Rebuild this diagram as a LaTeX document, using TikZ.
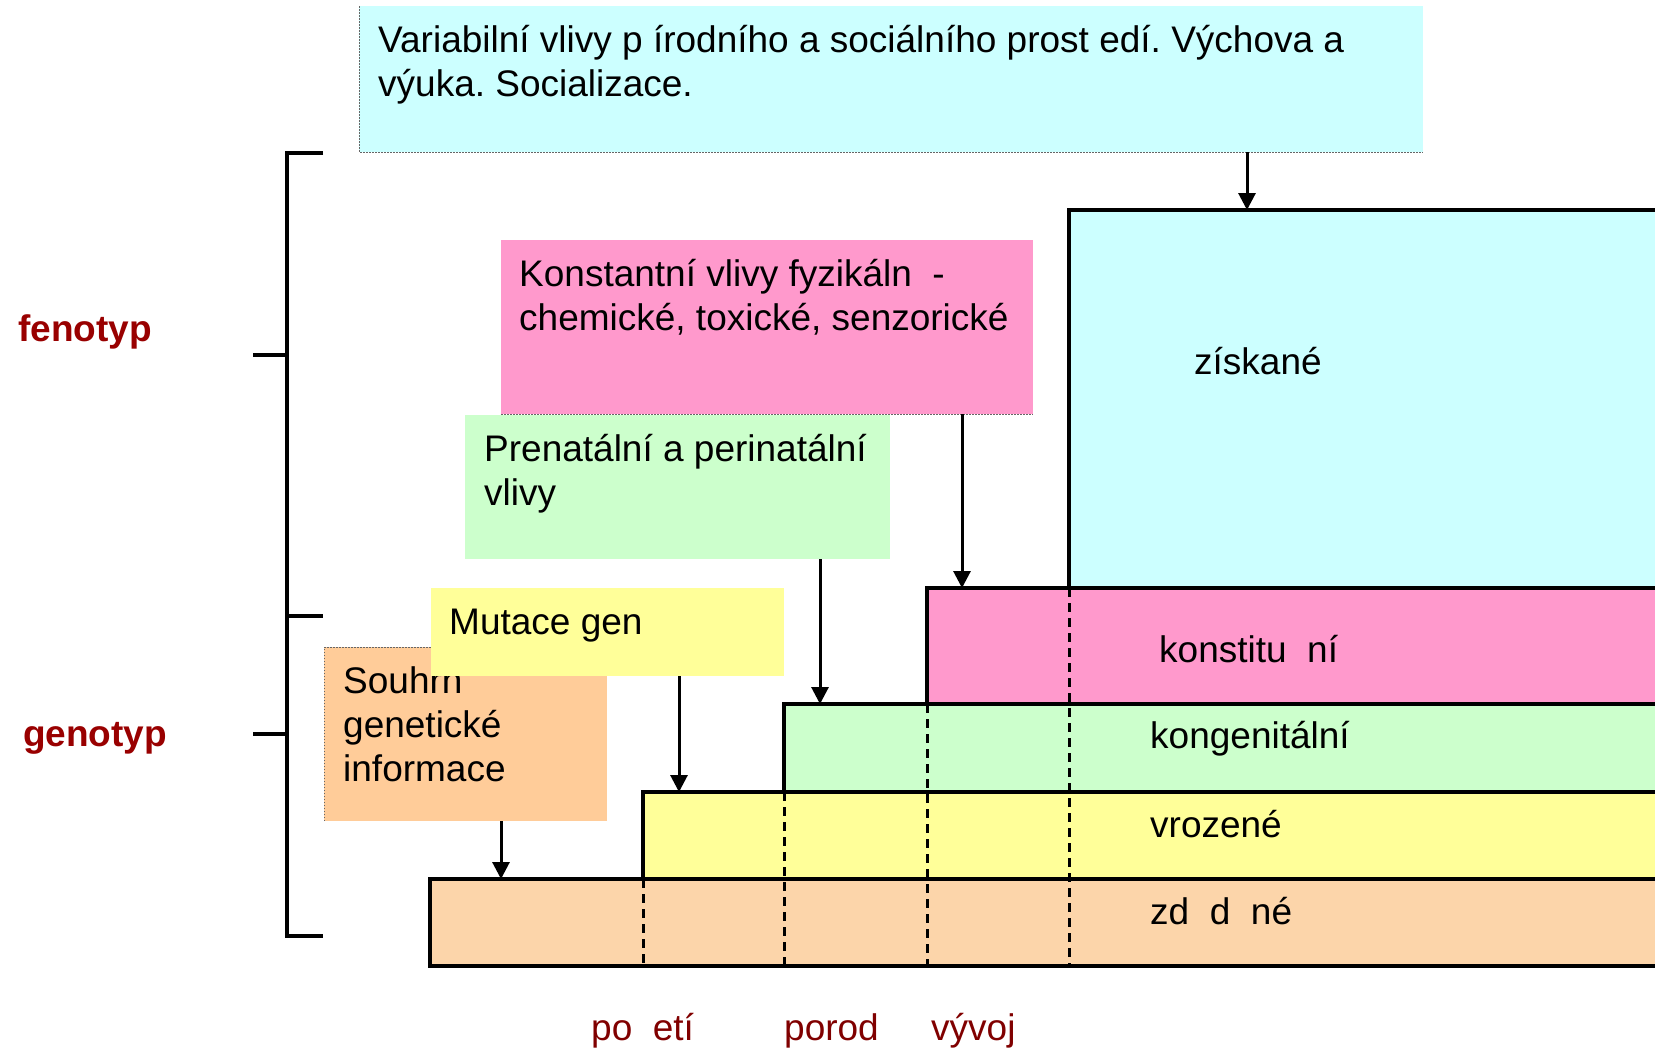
\documentclass[tikz,border=0pt]{standalone}
\usepackage{fontspec}
\setmainfont{Liberation Sans}
\usepackage{xcolor}
\usepackage{tikz}
\usetikzlibrary{positioning}
\usetikzlibrary{arrows.meta}

\definecolor{cyanbox}{HTML}{CCFFFF}
\definecolor{pinkbox}{HTML}{FF99CC}
\definecolor{greenbox}{HTML}{CCFFCC}
\definecolor{yellowbox}{HTML}{FFFF99}
\definecolor{orangebox}{HTML}{FFCC99}
\definecolor{peachbox}{HTML}{FCD5AA}
\definecolor{sidered}{HTML}{990000}
\definecolor{timered}{HTML}{800000}

\frenchspacing

\begin{document}
\begin{tikzpicture}[x=1pt, y=-1pt,
  area/.style={anchor=north west, inner sep=0pt, outer sep=0pt, draw=none},
  boxtext/.style={anchor=north west, inner sep=0pt, align=left, font=\fontsize{37}{44}\selectfont},
  stairtext/.style={anchor=base west, inner sep=0pt, font=\fontsize{37}{44}\selectfont},
  edge/.style={line width=3.3pt},
  cut/.style={line width=3pt, dash pattern=on 9pt off 6pt},
  dots/.style={line width=0.8pt, dash pattern=on 1.5pt off 1.5pt, black!60},
  arr/.style={line width=3pt, -{Triangle[length=17pt,width=17pt]}},
  side/.style={anchor=base west, inner sep=0pt, font=\bfseries\fontsize{37}{44}\selectfont, text=sidered},
  time/.style={anchor=base west, inner sep=0pt, font=\fontsize{37}{44}\selectfont, text=timered}
]

\useasboundingbox (0,0) rectangle (1655,1050);

% Draw the steps
\node[area, fill=cyanbox, minimum width=586pt, minimum height=378pt] (ziskane) at (1069,210) {};
\node[area, fill=pinkbox, minimum width=728pt, minimum height=116pt] (konstit) at (927,588) {};
\node[area, fill=greenbox, minimum width=871pt, minimum height=88pt] (kongen) at (784,704) {};
\node[area, fill=yellowbox, minimum width=1012pt, minimum height=87pt] (vroz) at (643,792) {};
\node[area, fill=peachbox, minimum width=1225pt, minimum height=87pt] (zdedene) at (430,879) {};

\foreach \b in {ziskane,konstit,kongen,vroz,zdedene}
{
  \draw[edge] (\b.north east) -- (\b.north west) -- (\b.south west) -- (\b.south east);
}

\foreach \b in {ziskane,konstit,kongen,vroz}
{
  \draw[cut] (\b.south west) -- (\b.south west |- zdedene.south);
}

\node[stairtext] (tziskane) at (1194,374) {získané};
\node[stairtext] (tkonstit) at (1159,662) {konstitu~~ní};
\node[stairtext] (tkongen) at (1150,748) {kongenitální};
\node[stairtext] (tvroz) at (1150,837) {vrozené};
\node[stairtext] (tzdedene) at (1150,924) {zd~~d~~né};

% Draw the influences
\node[area, fill=cyanbox, minimum width=1064pt, minimum height=146pt] (varbox) at (359,6) {};
\draw[dots] (varbox.north west) -- (varbox.south west) -- (varbox.south east);
\node[boxtext] at ([shift={(19,10)}]varbox.north west) {\rule{0pt}{36pt}Variabilní vlivy p~írodního a sociálního prost~edí. Výchova a\\výuka. Socializace.};

\node[area, fill=pinkbox, minimum width=532pt, minimum height=174pt] (konstbox) at (501,240) {};
\draw[dots] (konstbox.south west) -- (konstbox.south east);
\node[boxtext] at ([shift={(18,10)}]konstbox.north west) {\rule{0pt}{36pt}Konstantní vlivy fyzikáln~~-\\chemické, toxické, senzorické};

\node[area, fill=greenbox, minimum width=425pt, minimum height=144pt] (prenbox) at (465,415) {};
\node[boxtext] at ([shift={(19,10)}]prenbox.north west) {\rule{0pt}{36pt}Prenatální a perinatální\\vlivy};

\node[area, fill=orangebox, minimum width=283pt, minimum height=174pt] (souhrnbox) at (324,647) {};
\draw[dots] (souhrnbox.south west) -- (souhrnbox.north west) -- (souhrnbox.north east);
\node[boxtext] at ([shift={(19,10)}]souhrnbox.north west) {\rule{0pt}{36pt}Souhrn\\genetické\\informace};

\node[area, fill=yellowbox, minimum width=353pt, minimum height=88pt] (mutbox) at (431,588) {};
\node[boxtext] at ([shift={(18,10)}]mutbox.north west) {\rule{0pt}{36pt}Mutace gen};

% Draw the arrows
\foreach \x/\a/\b in {1247/varbox/ziskane, 962/konstbox/konstit, 820/prenbox/kongen, 679/mutbox/vroz, 501/souhrnbox/zdedene}
{
  \coordinate (xpos) at (\x,0);
  \draw[arr] (xpos |- \a.south) -- (xpos |- \b.north);
}

% Draw the bracket
\draw[edge] (323,153) -- (287,153) -- (287,936) -- (323,936);
\draw[edge] (287,616) -- (323,616);
\draw[edge] (253,355) -- (287,355);
\draw[edge] (253,734) -- (287,734);

\node[side] (fen) at (18,341) {fenotyp};
\node[side] (gen) at (23,746) {genotyp};

% Time labels
\node[time] (pocati) at (591,1040) {po~~etí};
\node[time] (porod) at (784,1040) {porod};
\node[time] (vyvoj) at (931,1040) {vývoj};

\end{tikzpicture}
\end{document}
